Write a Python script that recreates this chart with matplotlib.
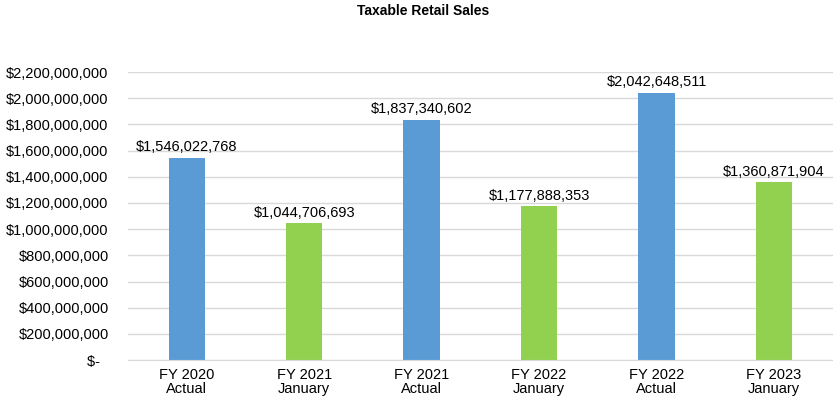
import matplotlib.pyplot as plt
from matplotlib.ticker import FuncFormatter

# taxable retail sales by fiscal year
categories = ['FY 2020\nActual', 'FY 2021\nJanuary', 'FY 2021\nActual',
              'FY 2022\nJanuary', 'FY 2022\nActual', 'FY 2023\nJanuary']
sales = [1546022768, 1044706693, 1837340602, 1177888353, 2042648511, 1360871904]
colors = ['#5B9BD5', '#92D050', '#5B9BD5', '#92D050', '#5B9BD5', '#92D050']

plt.rcParams['font.family'] = ['Liberation Sans', 'DejaVu Sans']

fig = plt.figure(figsize=(8.33, 3.97), dpi=100)
ax = fig.add_axes([0.1537, 0.093, 0.846, 0.7256])

x = range(len(categories))
bars = ax.bar(x, sales, width=0.31, color=colors, zorder=3)

for xi, v in zip(x, sales):
    ax.text(xi, v + 25000000, '${:,.0f}'.format(v), ha='center', va='bottom',
            fontsize=10.5, color='#000000')

def money(val, pos):
    if val == 0:
        return '$-  '
    return '${:,.0f}'.format(val)

ax.set_ylim(0, 2200000000)
ax.set_xlim(-0.5, len(categories) - 0.5)
ax.set_yticks(range(0, 2200000001, 200000000))
ax.yaxis.set_major_formatter(FuncFormatter(money))
ax.set_xticks(list(x))
ax.set_xticklabels(categories, fontsize=10.5, linespacing=1.0)
ax.tick_params(axis='y', labelsize=10.5, length=0, pad=14)
ax.tick_params(axis='x', length=0, pad=6)

ax.grid(axis='y', color='#D9D9D9', linewidth=1, zorder=0)
for s in ['top', 'right', 'left']:
    ax.spines[s].set_visible(False)
ax.spines['bottom'].set_color('#D9D9D9')
ax.spines['bottom'].set_zorder(4)

fig.text(0.508, 0.972, 'Taxable Retail Sales', ha='center', va='center',
         fontsize=10, fontweight='bold', family=['Liberation Sans Narrow', 'Liberation Sans'])

fig.savefig('out.png', dpi=100)
